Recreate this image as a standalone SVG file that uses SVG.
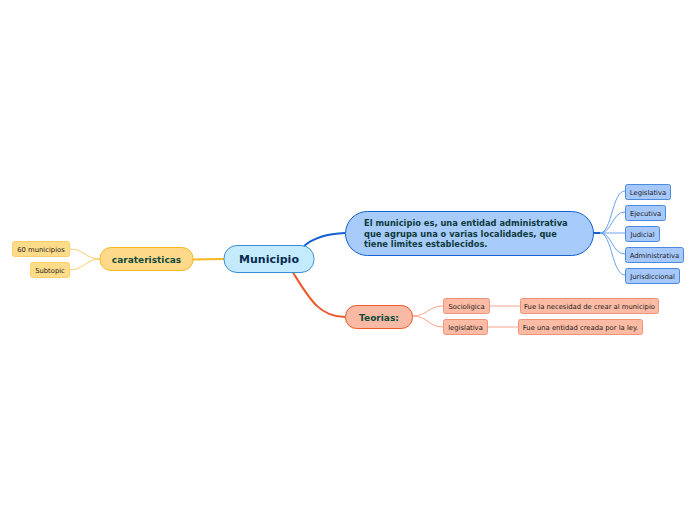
<svg xmlns="http://www.w3.org/2000/svg" width="696" height="520" viewBox="0 0 696 520">
<style>
text{font-family:"DejaVu Sans","Verdana",sans-serif;}
.leaf{font-size:6.8px;fill:#1a1a1a;}
.ly{fill:#ffdc8a;stroke:#fbcf6a;stroke-width:1;}
.lb{fill:#a7c8fb;stroke:#4a8ae0;stroke-width:1;}
.lr{fill:#fbbba5;stroke:#f0937a;stroke-width:1;}
.c{fill:none;}
</style>
<rect width="696" height="520" fill="#ffffff"/>
<g id="connectors">
<path class="c" d="M193 259.5 L224 259" stroke="#f5b820" stroke-width="2"/>
<path class="c" d="M304 246 Q318 234 345 233" stroke="#1560d0" stroke-width="2"/>
<path class="c" d="M292 271 C308 296 318 317 345 317" stroke="#f0582a" stroke-width="2"/>
<path class="c" d="M100 259 C85 259 85 249 69 249" stroke="#fbd06a" stroke-width="1"/>
<path class="c" d="M100 259 C85 259 85 270 69 270" stroke="#fbd06a" stroke-width="1"/>
<path class="c" d="M593 233 L600 233" stroke="#1560d0" stroke-width="2"/>
<path class="c" d="M600 233 C612 233 612 191 625 191" stroke="#6aa2ec" stroke-width="1"/>
<path class="c" d="M600 233 C612 233 612 212 625 212" stroke="#6aa2ec" stroke-width="1"/>
<path class="c" d="M600 233 C612 233 612 233 625 233" stroke="#6aa2ec" stroke-width="1"/>
<path class="c" d="M600 233 C612 233 612 254 625 254" stroke="#6aa2ec" stroke-width="1"/>
<path class="c" d="M600 233 C612 233 612 275 625 275" stroke="#6aa2ec" stroke-width="1"/>
<path class="c" d="M412 316 C428 316 428 306 443 306" stroke="#f6a58c" stroke-width="1"/>
<path class="c" d="M412 316 C428 316 428 327 443 327" stroke="#f6a58c" stroke-width="1"/>
<path class="c" d="M489 306 L520 306" stroke="#f6a58c" stroke-width="1"/>
<path class="c" d="M487 327 L518 327" stroke="#f6a58c" stroke-width="1"/>
</g>
<g id="municipio">
<rect x="224" y="245.5" width="90" height="27" rx="13" fill="#c3ebfd" stroke="#3a8fd6" stroke-width="1"/>
<text x="269" y="263" text-anchor="middle" font-size="11" font-weight="bold" fill="#0a2a50">Municipio</text>
</g>
<g id="carateristicas">
<rect x="100" y="247.5" width="93" height="23" rx="11" fill="#ffd98a" stroke="#f5b820" stroke-width="1"/>
<text x="146.5" y="262.5" text-anchor="middle" font-size="9" font-weight="bold" fill="#0e4a3a">carateristicas</text>
</g>
<g id="n60">
<rect class="ly" x="12.5" y="241.5" width="57" height="15" rx="2"/>
<text class="leaf" x="41" y="251.5" text-anchor="middle">60 municipios</text>
</g>
<g id="subtopic">
<rect class="ly" x="30.5" y="262.5" width="39" height="15" rx="2"/>
<text class="leaf" x="50" y="272.5" text-anchor="middle">Subtopic</text>
</g>
<g id="definicion">
<rect x="345.5" y="211.5" width="248" height="44" rx="22" fill="#a7ccfb" stroke="#1560d0" stroke-width="1"/>
<text font-size="8.3" font-weight="bold" fill="#0e3a3a">
<tspan x="364" y="226">El municipio es, una entidad administrativa</tspan>
<tspan x="364" y="236.5">que agrupa una o varias localidades, que</tspan>
<tspan x="364" y="247">tiene limites establecidos.</tspan>
</text>
</g>
<g id="legislativa1">
<rect class="lb" x="625.5" y="184.5" width="45" height="15" rx="2"/>
<text class="leaf" x="648" y="194.5" text-anchor="middle">Legislativa</text>
</g>
<g id="ejecutiva">
<rect class="lb" x="625.5" y="205.5" width="40" height="15" rx="2"/>
<text class="leaf" x="645.5" y="215.5" text-anchor="middle">Ejecutiva</text>
</g>
<g id="judicial">
<rect class="lb" x="625.5" y="226.5" width="34" height="15" rx="2"/>
<text class="leaf" x="642.5" y="236.5" text-anchor="middle">Judicial</text>
</g>
<g id="administrativa">
<rect class="lb" x="625.5" y="247.5" width="58" height="15" rx="2"/>
<text class="leaf" x="654.5" y="257.5" text-anchor="middle">Administrativa</text>
</g>
<g id="jurisdiccional">
<rect class="lb" x="625.5" y="268.5" width="54" height="15" rx="2"/>
<text class="leaf" x="652.5" y="278.5" text-anchor="middle">Jurisdiccional</text>
</g>
<g id="teorias">
<rect x="345.5" y="305.5" width="67" height="23" rx="11" fill="#f8baa4" stroke="#f0582a" stroke-width="1"/>
<text x="379" y="320.5" text-anchor="middle" font-size="9" font-weight="bold" fill="#0e4a3a">Teorias:</text>
</g>
<g id="sociligica">
<rect class="lr" x="443.5" y="298.5" width="46" height="15" rx="2"/>
<text class="leaf" x="466.5" y="308.5" text-anchor="middle">Socioligica</text>
</g>
<g id="legislativa2">
<rect class="lr" x="443.5" y="319.5" width="44" height="15" rx="2"/>
<text class="leaf" x="465.5" y="329.5" text-anchor="middle">legislativa</text>
</g>
<g id="necesidad">
<rect class="lr" x="520.5" y="298.5" width="138" height="15" rx="2"/>
<text class="leaf" x="589.5" y="308.5" text-anchor="middle">Fue la necesidad de crear al municipio</text>
</g>
<g id="entidad">
<rect class="lr" x="518.5" y="319.5" width="124" height="15" rx="2"/>
<text class="leaf" x="580.5" y="329.5" text-anchor="middle">Fue una entidad creada por la ley.</text>
</g>
</svg>
